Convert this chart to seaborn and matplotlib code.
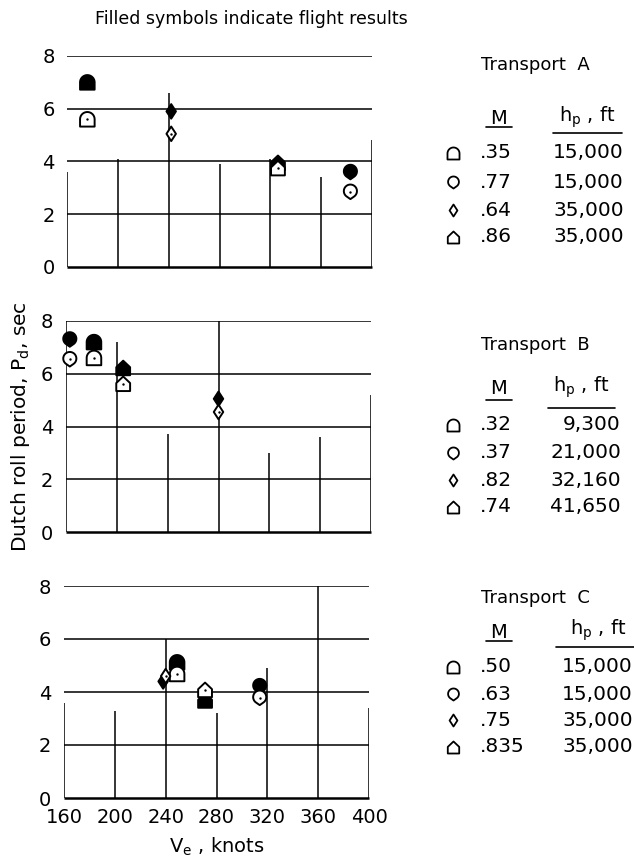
import numpy as np
import pandas as pd
import matplotlib
matplotlib.use("Agg")
import matplotlib.pyplot as plt
from matplotlib.path import Path
from matplotlib.markers import MarkerStyle
import seaborn as sns

sns.set_theme(style="white")
plt.rcParams["font.family"] = ["DejaVu Sans"]
plt.rcParams["mathtext.fontset"] = "dejavusans"
plt.rcParams["text.color"] = "black"
plt.rcParams["axes.labelcolor"] = "black"
plt.rcParams["xtick.color"] = "black"
plt.rcParams["ytick.color"] = "black"

# ---- data: equivalent airspeed (knots) and Dutch roll period (sec) ----
configs = ["arch", "drop", "diamond", "house"]

mach_A = [".35", ".77", ".64", ".86"]
alt_A = ["15,000", "15,000", "35,000", "35,000"]
speed_A = [176, 383, 242, 326]
speed_flight_A = [176, 383, 242, 326]
period_calc_A = [5.6, 2.85, 5.05, 3.75]
period_flight_A = [7.0, 3.6, 5.9, 3.95]

mach_B = [".32", ".37", ".82", ".74"]
alt_B = ["9,300", "21,000", "32,160", "41,650"]
speed_B = [182, 163, 280, 205]
speed_flight_B = [182, 163, 280, 205]
period_calc_B = [6.6, 6.55, 4.55, 5.62]
period_flight_B = [7.2, 7.3, 5.05, 6.22]

mach_C = [".50", ".63", ".75", ".835"]
alt_C = ["15,000", "15,000", "35,000", "35,000"]
speed_C = [249, 314, 240, 271]
speed_flight_C = [249, 314, 238, 271]
period_calc_C = [4.68, 3.78, 4.6, 4.08]
period_flight_C = [5.12, 4.22, 4.4, 3.68]

x_ticks = [160, 200, 240, 280, 320, 360, 400]
y_ticks = [0, 2, 4, 6, 8]


# ---- symbol shapes ----
def arch_marker():
    t = np.linspace(0, np.pi, 40)
    top = np.c_[np.cos(t), np.sin(t)]
    verts = np.vstack([[[1, -1]], top, [[-1, -1]], [[1, -1]]])
    return MarkerStyle(Path(verts, closed=True))


def drop_marker():
    r, cy = 0.9, 0.1
    a0 = np.arctan2(-0.636 - cy, 0.518)
    t = np.linspace(a0, np.pi - a0, 40)
    arc = np.c_[r * np.cos(t), cy + r * np.sin(t)]
    verts = np.vstack([[[0, -1]], arc, [[0, -1]]])
    return MarkerStyle(Path(verts, closed=True))


def diamond_marker():
    verts = [(0, -1), (0.65, 0), (0, 1), (-0.65, 0), (0, -1)]
    return MarkerStyle(Path(verts, closed=True))


def house_marker():
    verts = [(-0.95, -1), (0.95, -1), (0.95, 0.1), (0, 1), (-0.95, 0.1), (-0.95, -1)]
    return MarkerStyle(Path(verts, closed=True))


marker_map = {
    "arch": arch_marker(),
    "drop": drop_marker(),
    "diamond": diamond_marker(),
    "house": house_marker(),
}

panels = [
    dict(speed=speed_A, speed_f=speed_flight_A, calc=period_calc_A,
         flight=period_flight_A),
    dict(speed=speed_B, speed_f=speed_flight_B, calc=period_calc_B,
         flight=period_flight_B),
    dict(speed=speed_C, speed_f=speed_flight_C, calc=period_calc_C,
         flight=period_flight_C),
]

# partial vertical rulings of the grid (top of each segment)
vrule_tops = [
    [3.6, 4.1, 6.6, 3.9, 4.1, 3.4, 4.8],
    [8.0, 7.2, 3.7, 8.0, 3.0, 3.6, 5.2],
    [3.6, 3.3, 6.0, 3.2, 4.9, 8.0, 3.4],
]

W, H = 634, 860
fig = plt.figure(figsize=(W / 100, H / 100), dpi=100)
fig.patch.set_facecolor("white")

axes_px = [(67, 56, 372, 267), (66, 321, 371, 532), (64, 586, 369, 798)]

for i, (panel, (x0, y0, x1, y1)) in enumerate(zip(panels, axes_px)):
    ax = fig.add_axes([x0 / W, 1 - y1 / H, (x1 - x0) / W, (y1 - y0) / H])
    ax.set_xlim(160, 400)
    ax.set_ylim(0, 8)
    for s in ax.spines.values():
        s.set_visible(False)
    ax.set_facecolor("white")

    ax.hlines([2, 4, 6, 8], 160, 400, color="black", lw=1.1, zorder=1)
    ax.hlines([0], 160, 400, color="black", lw=1.8, zorder=1, clip_on=False)
    ax.vlines(x_ticks, 0, vrule_tops[i], color="black", lw=1.1, zorder=1)

    flight_df = pd.DataFrame({"speed": panel["speed_f"], "period": panel["flight"],
                              "config": configs, "kind": "flight"})
    calc_df = pd.DataFrame({"speed": panel["speed"], "period": panel["calc"],
                            "config": configs, "kind": "calc"})
    df = pd.concat([flight_df, calc_df], ignore_index=True)

    sns.scatterplot(data=df, x="speed", y="period", hue="kind", style="config",
                    palette={"flight": "black", "calc": "white"},
                    markers=marker_map, s=110, edgecolor="black", linewidth=1.4,
                    legend=False, ax=ax, clip_on=False, zorder=3)
    sns.scatterplot(data=calc_df, x="speed", y="period", marker="o", s=3,
                    color="black", linewidth=0, legend=False, ax=ax,
                    clip_on=False, zorder=4)

    ax.set_xticks(x_ticks)
    ax.set_yticks(y_ticks)
    ax.set_yticklabels([str(v) for v in y_ticks])
    ax.tick_params(axis="both", length=0, labelsize=14, colors="black")
    ax.tick_params(axis="y", pad=9)
    ax.tick_params(axis="x", pad=7)
    ax.set_xlabel("")
    ax.set_ylabel("")
    if i < 2:
        ax.set_xticklabels([])
    else:
        ax.set_xticklabels([str(v) for v in x_ticks])

fig.text(95 / W, 1 - 19 / H, "Filled symbols indicate flight results",
         ha="left", va="center", fontsize=12.5)
fig.text(21 / W, 1 - 427 / H, "Dutch roll period, P$_\\mathrm{d}$, sec",
         rotation=90, ha="center", va="center", fontsize=14.5)
fig.text(217 / W, 1 - 847 / H, "V$_\\mathrm{e}$ , knots",
         ha="center", va="center", fontsize=14)

# ---- key tables, laid out in figure pixels ----
lax = fig.add_axes([0, 0, 1, 1])
lax.set_xlim(0, W)
lax.set_ylim(H, 0)
lax.axis("off")

keys = [
    dict(name="Transport  A", ty=65, hy=119, uy_m=127, uy_h=133, hx=(553, 622),
         rows=[153, 182, 210, 237], mach=mach_A, alt=alt_A, alt_x=624, alt_ha="right"),
    dict(name="Transport  B", ty=345, hy=389, uy_m=400, uy_h=408, hx=(548, 615),
         rows=[425, 453, 480, 507], mach=mach_B, alt=alt_B, alt_x=621, alt_ha="right"),
    dict(name="Transport  C", ty=598, hy=632, uy_m=641, uy_h=647, hx=(556, 640),
         rows=[667, 694, 720, 747], mach=mach_C, alt=alt_C, alt_x=562, alt_ha="left"),
]

for k in keys:
    lax.text(535, k["ty"], k["name"], ha="center", va="center", fontsize=13)
    lax.text(499, k["hy"], "M", ha="center", va="center", fontsize=14)
    lax.plot([486, 512], [k["uy_m"]] * 2, color="black", lw=1.2)
    lax.text((k["hx"][0] + k["hx"][1]) / 2, k["hy"] - 2, "h$_\\mathrm{p}$ , ft",
             ha="center", va="center", fontsize=14)
    lax.plot(list(k["hx"]), [k["uy_h"]] * 2, color="black", lw=1.2)
    for cfg, m, a, y in zip(configs, k["mach"], k["alt"], k["rows"]):
        lax.scatter([453], [y], marker=marker_map[cfg], s=75, facecolor="white",
                    edgecolor="black", linewidth=1.3, clip_on=False)
        lax.text(480, y, m, ha="left", va="center", fontsize=14.5)
        lax.text(k["alt_x"], y, a, ha=k["alt_ha"], va="center", fontsize=14.5)

fig.savefig("out.png", dpi=100, facecolor="white")
